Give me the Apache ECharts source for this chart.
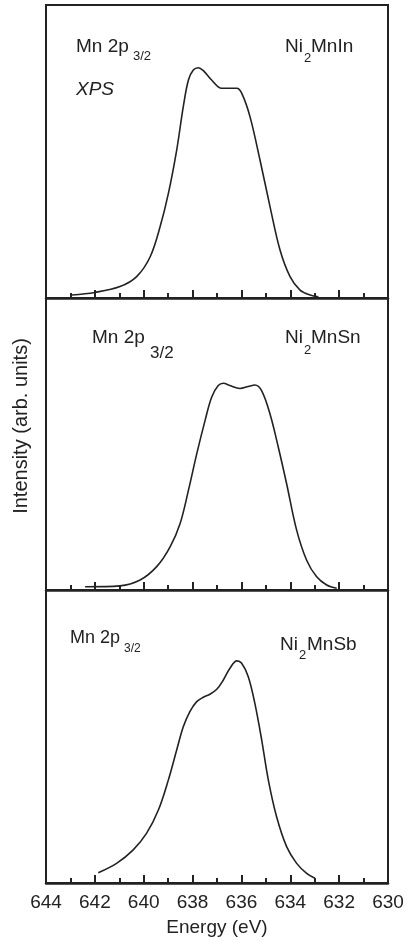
<!DOCTYPE html>
<html>
<head>
<meta charset="utf-8">
<script src="https://cdn.jsdelivr.net/npm/echarts@6/dist/echarts.min.js"></script>
<style>
html,body{margin:0;padding:0;background:#fff;}
#c{width:411px;height:941px;}
</style>
</head>
<body>
<div id="c"></div>
<script>
// Energy axis (eV), decreasing to the right
const energyMin = 630, energyMax = 644;
const tickLabels = ['644','642','640','638','636','634','632','630'];

// Ni2MnIn panel
const inEnergy = [642.95,642.0,640.97,640.29,639.74,639.33,638.99,638.65,638.38,638.17,637.97,637.77,637.56,637.22,636.81,636.47,636.19,635.99,635.65,635.24,634.83,634.42,634.01,633.60,633.19,632.85];
const inIntensity = [1.0,1.9,3.9,7.3,14.0,24.3,35.7,50.5,65.3,74.4,77.8,78.6,77.6,74.4,71.6,71.6,71.6,69.9,61.9,47.1,31.2,16.4,7.3,2.7,1.0,0.4];

// Ni2MnSn panel
const snEnergy = [642.4,640.97,640.15,639.47,638.92,638.51,638.17,637.83,637.49,637.22,636.95,636.74,636.47,636.06,635.72,635.45,635.17,634.83,634.49,634.15,633.74,633.33,632.92,632.51,632.10];
const snIntensity = [1.1,1.4,3.4,8.0,14.8,22.8,34.1,46.6,58.0,66.0,70.0,70.8,70.0,69.0,69.7,70.2,68.2,60.3,48.9,36.4,20.5,10.2,4.5,1.7,0.6];

// Ni2MnSb panel
const sbEnergy = [641.86,641.11,640.43,639.88,639.40,638.99,638.65,638.38,638.11,637.83,637.56,637.29,637.01,636.74,636.47,636.19,635.99,635.72,635.45,635.17,634.90,634.56,634.15,633.74,633.33,632.99];
const sbIntensity = [3.5,6.7,11.3,17.0,24.9,35.2,45.4,53.3,58.5,61.9,63.4,64.4,66.1,69.3,73.3,75.8,75.0,70.4,61.3,48.8,35.2,22.6,12.4,6.7,3.3,1.6];

const panels = [
  {e: inEnergy, v: inIntensity},
  {e: snEnergy, v: snIntensity},
  {e: sbEnergy, v: sbIntensity}
];

const ink = '#222';
const font = 'Liberation Sans, Arial, Helvetica, sans-serif';
const gridTops = [5, 298, 590];
const gridHeights = [293, 292, 293];

const grids = gridTops.map((t, i) => ({
  left: 46, right: 23, top: t, height: gridHeights[i],
  show: true, borderColor: ink, borderWidth: 2, backgroundColor: 'transparent'
}));

const xAxes = panels.map((p, i) => ({
  type: 'value', gridIndex: i, min: energyMin, max: energyMax, interval: 2, inverse: true,
  axisLine: {show: true, onZero: false, lineStyle: {color: ink, width: 2.5}},
  axisTick: {show: true, inside: true, length: 8, lineStyle: {color: ink, width: 2}},
  minorTick: {show: true, splitNumber: 2, length: 5, lineStyle: {color: ink, width: 2}},
  splitLine: {show: false},
  axisLabel: {show: i === 2, color: ink, fontSize: 19, fontFamily: font, margin: 10,
    formatter: v => tickLabels.includes(String(v)) ? String(v) : ''}
}));

const yAxes = panels.map((p, i) => ({
  type: 'value', gridIndex: i, min: 0, max: 100, show: false
}));

const series = panels.map((p, i) => ({
  type: 'line', xAxisIndex: i, yAxisIndex: i, smooth: 0.35, showSymbol: false,
  lineStyle: {color: ink, width: 1.6},
  data: p.e.map((e, k) => [e, p.v[k]])
}));

function txt(x, y, s, size, extra) {
  return Object.assign({type: 'text', x: x, y: y, style: {text: s, fill: ink, font: size + 'px ' + font, textAlign: 'left', textVerticalAlign: 'middle'}}, extra || {});
}

const graphic = [
  // panel 1
  txt(76, 47, 'Mn 2p', 19), txt(133, 56, '3/2', 13),
  {type: 'text', x: 76, y: 90, style: {text: 'XPS', fill: ink, font: 'italic 19px ' + font, textAlign: 'left', textVerticalAlign: 'middle'}},
  txt(285, 47, 'Ni', 19), txt(304, 58, '2', 13), txt(311, 47, 'MnIn', 19),
  // panel 2
  txt(92, 338, 'Mn 2p', 19), txt(150, 353, '3/2', 17),
  txt(285, 338, 'Ni', 19), txt(304, 350, '2', 13), txt(311, 338, 'MnSn', 19),
  // panel 3
  txt(70, 638, 'Mn 2p', 18), txt(124, 649, '3/2', 12),
  txt(280, 645, 'Ni', 19), txt(299, 655, '2', 13), txt(307, 645, 'MnSb', 19),
  // axis titles
  {type: 'text', x: 217, y: 928, style: {text: 'Energy (eV)', fill: ink, font: '19px ' + font, textAlign: 'center', textVerticalAlign: 'middle'}},
  {type: 'text', x: 21, y: 426, rotation: Math.PI / 2, style: {text: 'Intensity (arb. units)', fill: ink, font: '20px ' + font, textAlign: 'center', textVerticalAlign: 'middle'}}
];

const chart = echarts.init(document.getElementById('c'), null, {renderer: 'canvas'});
chart.setOption({
  animation: false,
  backgroundColor: '#fff',
  grid: grids, xAxis: xAxes, yAxis: yAxes, series: series, graphic: graphic
});
</script>
</body>
</html>
